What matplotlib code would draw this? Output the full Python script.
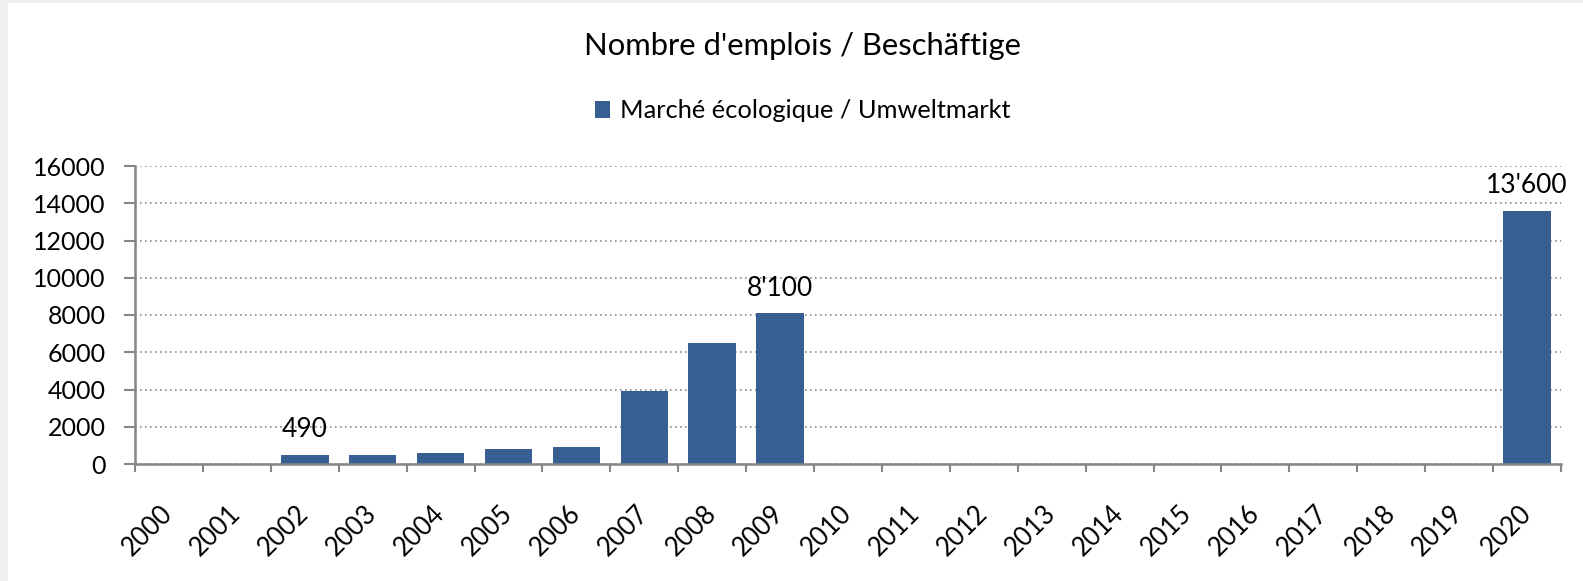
import matplotlib
matplotlib.use("Agg")
import matplotlib.pyplot as plt
from matplotlib.patches import Rectangle

years = [str(y) for y in range(2000, 2021)]
values = [0, 0, 490, 490, 580, 800, 920, 3900, 6500, 8100,
          0, 0, 0, 0, 0, 0, 0, 0, 0, 0, 13600]
label_years = ["2002", "2009", "2020"]
label_texts = ["490", "8'100", "13'600"]
yticks = [0, 2000, 4000, 6000, 8000, 10000, 12000, 14000, 16000]

title = "Nombre d'emplois / Beschäftige"
series_name = "Marché écologique / Umweltmarkt"

plt.rcParams['font.family'] = ['Lato', 'DejaVu Sans']
bar_color = '#375F91'
axis_gray = '#868686'

fig = plt.figure(figsize=(15.83, 5.81), dpi=100)
fig.patch.set_facecolor('#EFEFEF')
fig.patches.append(Rectangle((8 / 1583, 0), 1, 1 - 3 / 581, transform=fig.transFigure,
                             facecolor='white', edgecolor='none', zorder=-10))

ax = fig.add_axes([135 / 1583, 1 - 464 / 581, (1561 - 135) / 1583, (464 - 166) / 581])
ax.set_facecolor('none')
x = list(range(len(years)))
bars = ax.bar(x, values, width=0.70, color=bar_color, zorder=3, label=series_name)

ax.set_xlim(-0.5, len(years) - 0.5)
ax.set_ylim(0, 16000)
ax.set_yticks(yticks)
ax.set_yticklabels([str(v) for v in yticks], fontsize=18)
ax.set_xticks(x)
ax.set_xticklabels(years, fontsize=18.5, rotation=45, ha='right', va='center',
                   rotation_mode='anchor')
ax.tick_params(axis='x', which='major', length=0, pad=33)
ax.set_xticks([i - 0.5 for i in range(len(years) + 1)], minor=True)
ax.tick_params(axis='x', which='minor', length=6, width=1.5, color=axis_gray)
ax.tick_params(axis='y', length=8, width=1.5, color=axis_gray, pad=13)

ax.grid(axis='y', linestyle=(0, (1, 2)), color='#8C8C8C', linewidth=1.2, zorder=1)
for s in ['top', 'right']:
    ax.spines[s].set_visible(False)
for s in ['left', 'bottom']:
    ax.spines[s].set_color(axis_gray)
    ax.spines[s].set_linewidth(1.8)
    ax.spines[s].set_zorder(4)

for yr, txt in zip(label_years, label_texts):
    i = years.index(yr)
    ax.annotate(txt, (i, values[i]), xytext=(0, 18), textcoords='offset points',
                ha='center', va='center', fontsize=19)

fig.text(0.507, 1 - 45.5 / 581, title, ha='center', va='center', fontsize=22.3)
fig.legend(handles=[bars], labels=[series_name], loc='center',
           bbox_to_anchor=(0.507, 1 - 111 / 581), frameon=False, fontsize=18.3,
           handlelength=0.6, handleheight=0.6, handletextpad=0.4)

fig.savefig('out.png', dpi=100)
